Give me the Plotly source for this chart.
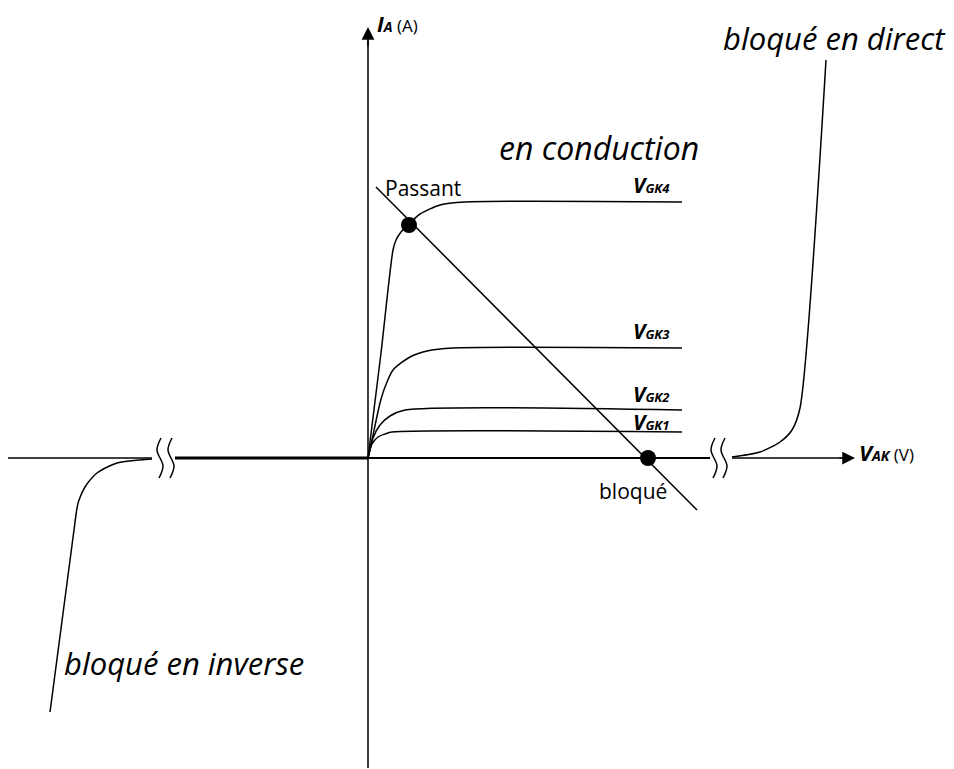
import plotly.graph_objects as go

# Schematic coordinates: origin at the axes crossing (V_AK, I_A in arbitrary units)
# (ranges compensate the 8px page margin of the browser)
X_RANGE = [-360, 594]
Y_RANGE = [-319, 450]

# Characteristic curves I_A = f(V_AK) for each gate voltage
vgk1_x = [0, 4, 10, 17, 24, 314]
vgk1_y = [0, 14, 21, 24, 26, 26]
vgk2_x = [0, 5, 12, 22, 37, 314]
vgk2_y = [0, 20, 33, 42, 48, 48]
vgk3_x = [0, 4, 12, 17, 25, 42, 59, 85, 314]
vgk3_y = [0, 18, 55, 71, 88, 101, 107, 110, 110]
vgk4_x = [0, 13, 25, 28, 33, 41, 52, 72, 97, 314]
vgk4_y = [0, 105, 208, 218, 226, 234, 244, 253, 256, 256]
vgk_labels = ["GK1", "GK2", "GK3", "GK4"]
vgk_label_y = [36, 64, 127, 273]

# Reverse blocking branch
rev_x = [-216, -251, -271, -283, -289, -291, -294, -318]
rev_y = [-1, -5, -15, -29, -42, -50, -72, -254]
rev_axis_x = [-193, 0]
# Forward blocking branch
fwd_x = [364, 392, 412, 424, 432, 458]
fwd_y = [1, 6, 16, 28, 50, 398]

# Load line and operating points
load_x = [8, 329]
load_y = [271, -52]
op_x = [41, 280]
op_y = [233, 0]

# Axis break positions
breaks_x = [-208, -197, 346, 356]

fig = go.Figure()
BLACK = "#000000"
FONT = "Open Sans"

def line(x, y, w=1.5, shape="spline", smoothing=0.7):
    fig.add_trace(go.Scatter(x=x, y=y, mode="lines",
                             line=dict(color=BLACK, width=w, shape=shape, smoothing=smoothing),
                             hoverinfo="skip", showlegend=False))

# axes
line([-360, -216], [0, 0], 1.5, "linear")
line([0, 342], [0, 0], 2, "linear")
line([364, 478], [0, 0], 1.5, "linear")
line([0, 0], [-310, 418], 1.5, "linear")
fig.add_annotation(x=487, y=0, ax=470, ay=0, xref="x", yref="y", axref="x", ayref="y",
                   showarrow=True, arrowhead=2, arrowsize=1.7, arrowwidth=1.5, arrowcolor=BLACK, text="")
fig.add_annotation(x=0, y=431, ax=0, ay=410, xref="x", yref="y", axref="x", ayref="y",
                   showarrow=True, arrowhead=2, arrowsize=1.7, arrowwidth=1.5, arrowcolor=BLACK, text="")

# curves
for xs, ys in [(vgk1_x, vgk1_y), (vgk2_x, vgk2_y), (vgk3_x, vgk3_y), (vgk4_x, vgk4_y)]:
    line(xs, ys, 1.5)
line(rev_axis_x, [0, 0], 3, "linear")
line(rev_x, rev_y, 1.5)
line(fwd_x, fwd_y, 1.5)
line(load_x, load_y, 1.5, "linear")

# break marks (small S shapes)
for bx in breaks_x:
    fig.add_trace(go.Scatter(x=[bx + 1, bx - 3, bx + 3, bx - 1], y=[20, 8, -8, -20], mode="lines",
                             line=dict(color=BLACK, width=1.5, shape="spline"),
                             hoverinfo="skip", showlegend=False))

# operating points
fig.add_trace(go.Scatter(x=op_x, y=op_y, mode="markers", marker=dict(color=BLACK, size=16, symbol="circle"),
                         hoverinfo="skip", showlegend=False))

# labels
for lab, ly in zip(vgk_labels, vgk_label_y):
    fig.add_annotation(x=304, y=ly, xref="x", yref="y", xanchor="right", yanchor="middle", showarrow=False,
                       text=f"<b><i>V</i></b><b><i><span style='font-size:13px'>{lab}</span></i></b>",
                       font=dict(family=FONT, size=21, color=BLACK))

fig.add_annotation(x=7, y=434, xref="x", yref="y", xanchor="left", yanchor="middle", showarrow=False,
                   text="<b><i>I</i></b><b><i><span style='font-size:14px'>A</span></i></b><span style='font-size:17px'> (A)</span>",
                   font=dict(family=FONT, size=21, color=BLACK))
fig.add_annotation(x=489, y=6, xref="x", yref="y", xanchor="left", yanchor="middle", showarrow=False,
                   text="<b><i>V</i></b><b><i><span style='font-size:14px'>AK</span></i></b><span style='font-size:17px'> (V)</span>",
                   font=dict(family=FONT, size=22, color=BLACK))

texts = [
    ("<i>en conduction</i>", 231, 311, 32),
    ("<i>bloqué en direct</i>", 466, 420, 31),
    ("<i>bloqué en inverse</i>", -184, -205, 31),
    ("Passant", 55, 270, 21),
    ("bloqué", 265, -33, 21),
]
for t, tx, ty, s in texts:
    fig.add_annotation(x=tx, y=ty, xref="x", yref="y", showarrow=False, text=t,
                       font=dict(family=FONT, size=s, color=BLACK))

fig.update_layout(width=954, height=769, margin=dict(l=0, r=0, t=0, b=0),
                  paper_bgcolor="white", plot_bgcolor="white",
                  xaxis=dict(range=X_RANGE, visible=False, fixedrange=True),
                  yaxis=dict(range=Y_RANGE, visible=False, fixedrange=True))
fig.write_html("out.html")
